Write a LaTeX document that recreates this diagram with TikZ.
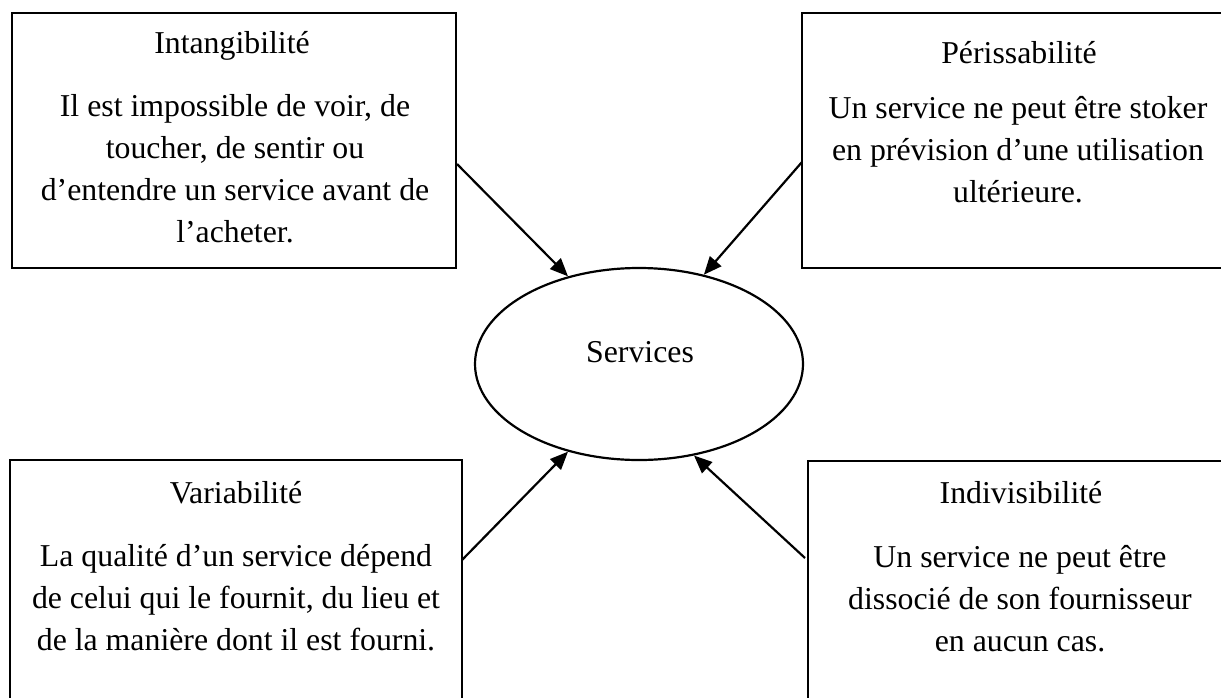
\documentclass[tikz,border=0pt]{standalone}
\usepackage{fontspec}
\setmainfont{Liberation Serif}
\usetikzlibrary{shapes.geometric,arrows.meta}
\begin{document}
\begin{tikzpicture}[x=1pt,y=-1pt,
  txt/.style={inner sep=0pt,anchor=base,font=\fontsize{31.8}{42.3}\selectfont},
  card/.style={draw,line width=2.5pt,rectangle,anchor=north west,inner sep=0pt,outer sep=0pt},
  arr/.style={line width=2.2pt,-{Triangle[length=18pt,width=15pt]}}]
\useasboundingbox (0,0) rectangle (1221,697);
\clip (0,0) rectangle (1221,697);

% the four characteristic boxes
\node[card,minimum width=444pt,minimum height=255pt] (tl) at (12,13) {};
\node[card,minimum width=432pt,minimum height=255pt] (tr) at (802,13) {};
\node[card,minimum width=452pt,minimum height=260pt] (bl) at (10,460) {};
\node[card,minimum width=426pt,minimum height=260pt] (br) at (808,461) {};

% central ellipse
\node[draw,ellipse,line width=2.2pt,inner sep=0pt,minimum width=328pt,minimum height=192pt] (svc) at (639,364) {};
\node[txt] (svcname) at (640,362) {Services};

% Intangibilité
\node[txt] (tlt) at (232,53) {Intangibilité};
\node[txt] (tl1) at (235,116) {Il est impossible de voir, de};
\node[txt] (tl2) at (235,158.3) {toucher, de sentir ou};
\node[txt] (tl3) at (235,200.6) {d’entendre un service avant de};
\node[txt] (tl4) at (235,242.9) {l’acheter.};

% Périssabilité
\node[txt] (trt) at (1019,63) {Périssabilité};
\node[txt] (tr1) at (1018,118) {Un service ne peut être stoker};
\node[txt] (tr2) at (1018,160.3) {en prévision d’une utilisation};
\node[txt] (tr3) at (1018,202.6) {ultérieure.};

% Variabilité
\node[txt] (blt) at (236,503) {Variabilité};
\node[txt] (bl1) at (236,566) {La qualité d’un service dépend};
\node[txt] (bl2) at (236,608.3) {de celui qui le fournit, du lieu et};
\node[txt] (bl3) at (236,650.6) {de la manière dont il est fourni.};

% Indivisibilité
\node[txt] (brt) at (1021,503) {Indivisibilité};
\node[txt] (br1) at (1020,567) {Un service ne peut être};
\node[txt] (br2) at (1020,609.3) {dissocié de son fournisseur};
\node[txt] (br3) at (1020,651.6) {en aucun cas.};

% connectors
\coordinate (s1) at (457,164);
\coordinate (s2) at (802,162);
\coordinate (s3) at (462,560);
\coordinate (s4) at (805,558);
\draw[arr] (s1) -- (svc.129.6);
\draw[arr] (s2) -- (svc.54.8);
\draw[arr] (s3) -- (svc.231.4);
\draw[arr] (s4) -- (svc.301.2);
\end{tikzpicture}
\end{document}
